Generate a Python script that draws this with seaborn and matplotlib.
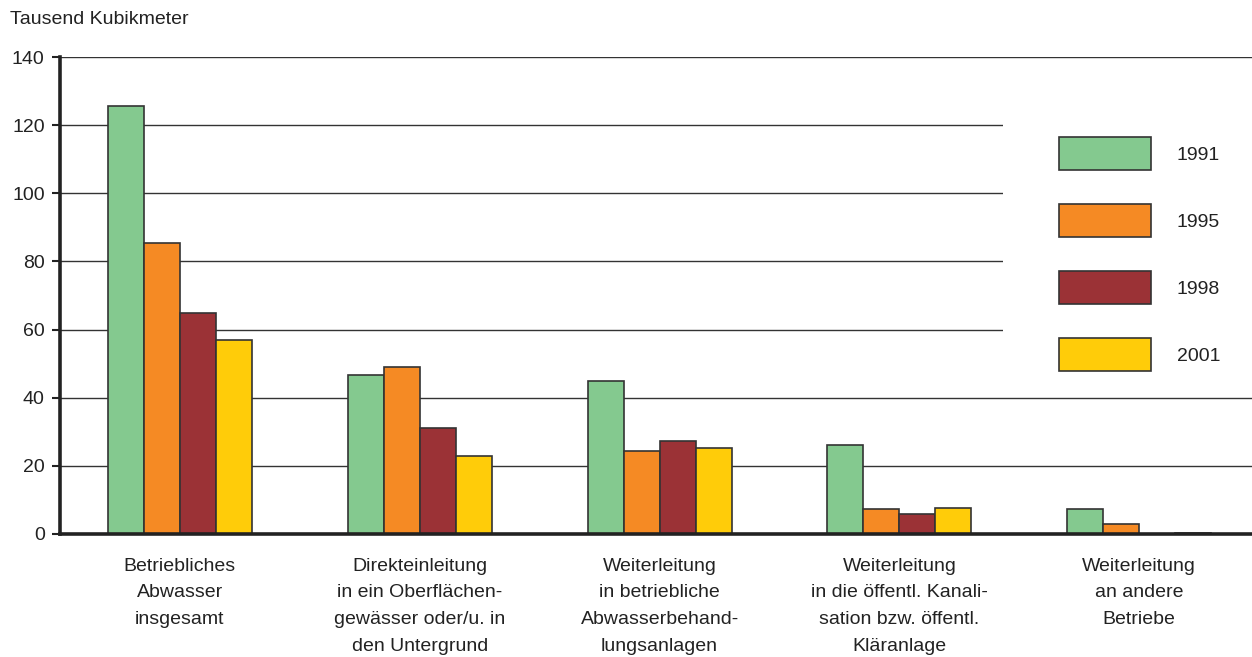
import matplotlib
matplotlib.use("Agg")
import matplotlib.pyplot as plt
import seaborn as sns
import pandas as pd
from matplotlib.patches import Rectangle

categories = [
    "Betriebliches\nAbwasser\ninsgesamt",
    "Direkteinleitung\nin ein Oberflächen-\ngewässer oder/u. in\nden Untergrund",
    "Weiterleitung\nin betriebliche\nAbwasserbehand-\nlungsanlagen",
    "Weiterleitung\nin die öffentl. Kanali-\nsation bzw. öffentl.\nKläranlage",
    "Weiterleitung\nan andere\nBetriebe",
]
years = ["1991", "1995", "1998", "2001"]
values_1991 = [125.6, 46.7, 44.9, 26.1, 7.3]
values_1995 = [85.4, 49.0, 24.4, 7.3, 2.9]
values_1998 = [64.9, 31.1, 27.3, 5.9, 0.0]
values_2001 = [56.9, 22.9, 25.2, 7.6, 0.4]
yticks = [0, 20, 40, 60, 80, 100, 120, 140]
colors = ["#84C98F", "#F58A24", "#9B3236", "#FFCC09"]

series = [values_1991, values_1995, values_1998, values_2001]
df = pd.DataFrame(
    [(c, y, v) for y, vals in zip(years, series) for c, v in zip(categories, vals)],
    columns=["Kategorie", "Jahr", "Wert"],
)

sns.set_theme(style="white")
plt.rcParams["font.family"] = ["Liberation Sans", "DejaVu Sans"]

FS = 14
fs_px = FS * 100 / 72
TEXT = "#222222"

fig = plt.figure(figsize=(12.52, 6.57), dpi=100)
ax = fig.add_axes([60 / 1252, 123 / 657, 1192 / 1252, 477 / 657])

sns.barplot(
    data=df, x="Kategorie", y="Wert", hue="Jahr", hue_order=years,
    order=categories, palette=colors, width=0.6, gap=0,
    edgecolor="#333333", linewidth=1.2, saturation=1, ax=ax, zorder=2,
)

ax.set_xlim(-0.5, 4.47)
ax.set_ylim(0, 140)
ax.set_yticks(yticks)
ax.set_yticklabels([str(t) for t in yticks])
ax.set_xlabel("")
ax.set_ylabel("")

ax.set_axisbelow(True)
ax.yaxis.grid(True, color="#333333", linewidth=1.0)
ax.xaxis.grid(False)

for side in ["top", "right"]:
    ax.spines[side].set_visible(False)
for side in ["left", "bottom"]:
    ax.spines[side].set_linewidth(2.6)
    ax.spines[side].set_color(TEXT)

ax.tick_params(axis="y", which="major", direction="out", length=6, width=1.5,
               color=TEXT, labelsize=FS, labelcolor=TEXT, pad=5, left=True)
ax.tick_params(axis="x", length=0, labelsize=FS, labelcolor=TEXT, pad=17)
for lab in ax.get_xticklabels():
    lab.set_linespacing(1.75)
    lab.set_verticalalignment("top")

# white panel behind the legend that interrupts the grid lines
ax.add_patch(Rectangle((0.791, 0.31), 0.209, 0.58, transform=ax.transAxes,
                       facecolor="white", edgecolor="none", zorder=1))

# legend geometry in pixels: swatch 92x33, row pitch 67
sw_w, sw_h, pitch = 92, 33, 67
hh = (sw_h / fs_px - 0.245) / 0.65
handles, labels = ax.get_legend_handles_labels()
ax.legend(
    handles, labels, loc="upper left", bbox_to_anchor=(1059 / 1252, 1 - 137 / 657),
    bbox_transform=fig.transFigure, frameon=False, fontsize=FS,
    handlelength=sw_w / fs_px, handleheight=hh,
    labelspacing=(pitch - sw_h) / fs_px, handletextpad=26 / fs_px,
    borderpad=0, borderaxespad=0, labelcolor=TEXT,
)

fig.text(10 / 1252, 1 - 20 / 657, "Tausend Kubikmeter", fontsize=FS,
         color=TEXT, va="center", ha="left")

fig.savefig("out.png", dpi=100)
